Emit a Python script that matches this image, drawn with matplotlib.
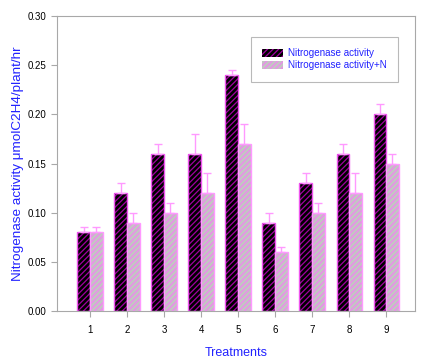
import numpy as np
import matplotlib
matplotlib.use("Agg")
import matplotlib.pyplot as plt

plt.rcParams['font.family'] = ['Liberation Sans', 'DejaVu Sans']
plt.rcParams['hatch.linewidth'] = 0.9

# Data
treatments = ['1', '2', '3', '4', '5', '6', '7', '8', '9']
activity = [0.08, 0.12, 0.16, 0.16, 0.24, 0.09, 0.13, 0.16, 0.20]
activity_err = [0.005, 0.01, 0.01, 0.02, 0.005, 0.01, 0.01, 0.01, 0.01]
activity_n = [0.08, 0.09, 0.10, 0.12, 0.17, 0.06, 0.10, 0.12, 0.15]
activity_n_err = [0.005, 0.01, 0.01, 0.02, 0.02, 0.005, 0.01, 0.02, 0.01]
yticks = [0.00, 0.05, 0.10, 0.15, 0.20, 0.25, 0.30]

x = np.arange(1, len(treatments) + 1)
w = 0.34
grey = '#a8a8a8'
errc = '#ff99ff'

fig = plt.figure(figsize=(4.27, 3.64), dpi=100)
ax = fig.add_axes([57/427, 1 - 311/364, (415-57)/427, (311-16)/364])

# dark bars: black with magenta hatching
ax.bar(x - w/2, activity, w, color='black', edgecolor='#a000a0',
       hatch='//////', linewidth=0, label='Nitrogenase activity')
ax.bar(x - w/2, activity, w, fill=False, edgecolor='#ee55ee', linewidth=1.0)
ax.errorbar(x - w/2, activity, yerr=[np.zeros(len(x)), activity_err], fmt='none',
            ecolor=errc, elinewidth=1.0, capsize=3, capthick=1.0)

# light bars: grey with pink hatching
ax.bar(x + w/2, activity_n, w, color='#c4c4c4', edgecolor='#ee88ee',
       hatch='//////', linewidth=0, label='Nitrogenase activity+N')
ax.bar(x + w/2, activity_n, w, fill=False, edgecolor='#ff99ff', linewidth=1.0)
ax.errorbar(x + w/2, activity_n, yerr=[np.zeros(len(x)), activity_n_err], fmt='none',
            ecolor=errc, elinewidth=1.0, capsize=3, capthick=1.0)

ax.set_xlim(0.11, 9.78)
ax.set_ylim(0, 0.30)
ax.set_xticks(x)
ax.set_xticklabels(treatments)
ax.set_yticks(yticks)
ax.set_yticklabels(['%.2f' % v for v in yticks])
ax.tick_params(axis='both', labelsize=7, color=grey, length=4, direction='out')
ax.tick_params(axis='x', pad=6)
for s in ax.spines.values():
    s.set_color(grey)
    s.set_linewidth(0.8)

ax.set_xlabel('Treatments', color='#2222ff', fontsize=9, labelpad=9)
ax.set_ylabel('Nitrogenase activity μmolC2H4/plant/hr', color='#2222ff', fontsize=9.7, labelpad=3)

leg = ax.legend(loc='upper right', bbox_to_anchor=(0.953, 0.929), fontsize=7.1,
                frameon=True, fancybox=False, edgecolor=grey, borderpad=1.15,
                borderaxespad=0, handlelength=2.1, handleheight=0.8,
                labelspacing=0.2, handletextpad=0.5)
leg.get_frame().set_linewidth(0.8)
for t in leg.get_texts():
    t.set_color('#2222ff')

fig.savefig('out.png', dpi=100)
